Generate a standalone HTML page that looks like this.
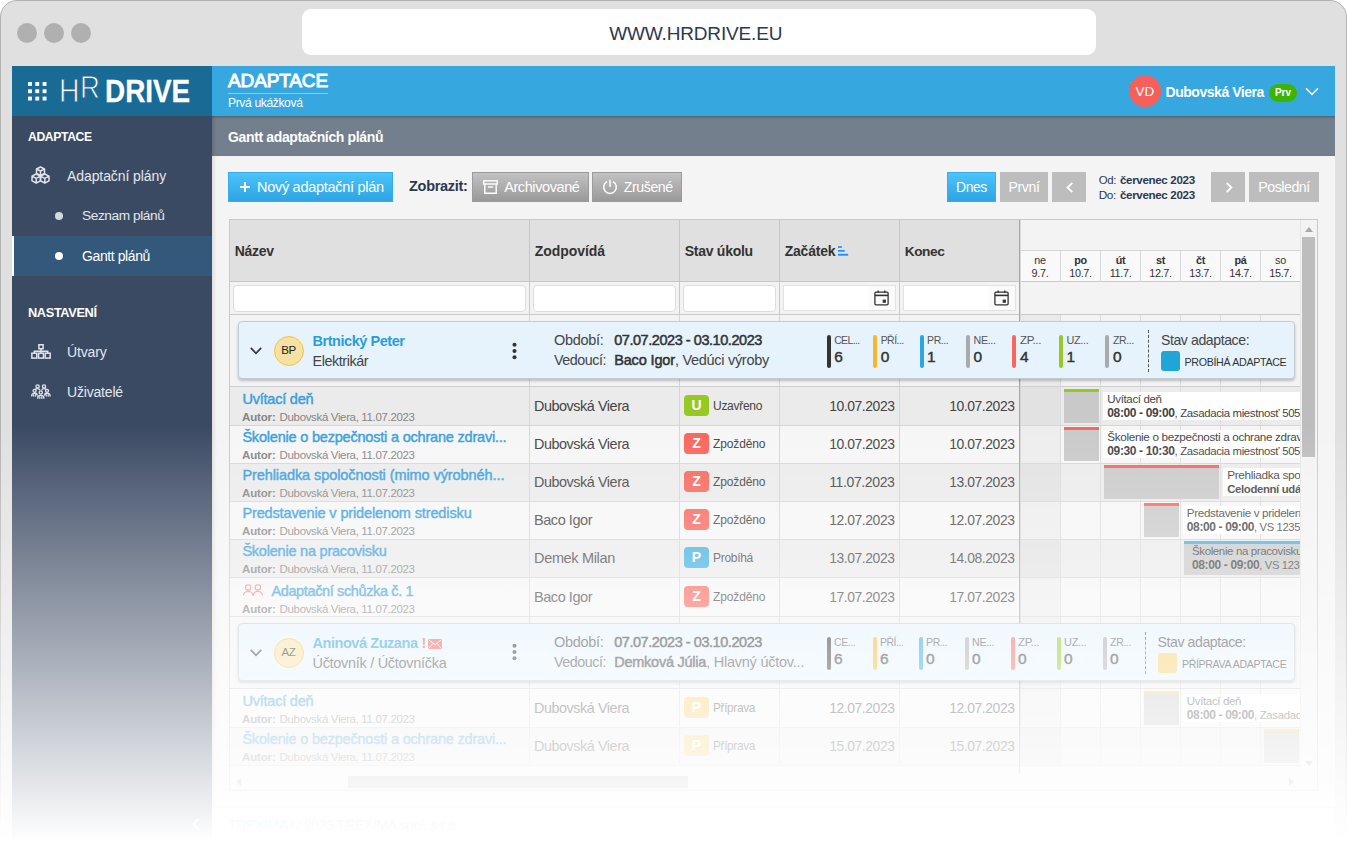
<!DOCTYPE html>
<html lang="cs"><head>
<meta charset="utf-8">
<title>HR DRIVE - Adaptace</title>
<style>
*{box-sizing:border-box;margin:0;padding:0}
html,body{width:1347px;height:859px;overflow:hidden;background:#fff}
body{font-family:"Liberation Sans",sans-serif;color:#333;position:relative;font-size:14px}
.abs{position:absolute}
#frame{position:absolute;left:0;top:0;width:1347px;height:850px;background:#e0e0e0;border:1px solid #b2b2b2;border-radius:17px}
.dot{position:absolute;top:23px;width:20px;height:20px;border-radius:50%;background:#b0b0b0}
#url{position:absolute;left:302px;top:9px;width:794px;height:46px;background:#fff;border-radius:9px;text-align:center;line-height:49px;font-size:19px;color:#2c3850;padding-right:6.5px}
#app{position:absolute;left:12px;top:66px;width:1323px;height:775px;background:#f4f4f4;overflow:hidden}
#logo{position:absolute;left:0;top:0;width:200px;height:50px;background:#1a6a96}
#topbar{position:absolute;left:200px;top:0;width:1123px;height:50px;background:#37a7e0}
#side{position:absolute;left:0;top:50px;width:200px;height:760px;background:#3b4a63;color:#fff}
#sub{position:absolute;left:200px;top:50px;width:1123px;height:40px;background:#737f8c;color:#fff;font-weight:bold;font-size:14px;line-height:42px;padding-left:16px;box-shadow:inset 0 3px 3px -2px rgba(0,0,0,.28),inset 4px 0 4px -3px rgba(0,0,0,.18)}

#logo .grid{position:absolute;left:15.7px;top:15.9px;width:19px;height:19px}
#logo .hh,#logo .rr{position:absolute;font-size:33px;color:#fff;-webkit-text-stroke:.95px #1a6a96;line-height:36px;transform-origin:0 50%;transform:scaleX(.86)}
#logo .hh{left:47px;top:6.5px}
#logo .rr{left:68px;top:3px;font-size:32px}
#logo .drive{position:absolute;left:93.2px;top:6.5px;font-size:31.5px;font-weight:bold;color:#fff;line-height:36px;transform-origin:0 50%;transform:scaleX(.885);-webkit-text-stroke:.3px #fff}
#topbar .ttl{position:absolute;left:16px;top:3px;font-size:19px;font-weight:normal;-webkit-text-stroke:.95px #fff;color:#fff;line-height:24px;border-bottom:1px solid rgba(255,255,255,.45);height:25px}
#topbar .subt{position:absolute;left:16px;top:29px;font-size:12.5px;color:#fff;line-height:16px}
#topbar .av{position:absolute;left:917px;top:9px;width:32px;height:32px;border-radius:50%;background:#f5605b;color:#fff;text-align:center;line-height:33.5px;font-size:13.5px}
#topbar .un{position:absolute;left:953.5px;top:16px;font-size:14.5px;font-weight:bold;color:#fff;line-height:20px;white-space:nowrap}
#topbar .pill{position:absolute;left:1057px;top:18px;width:28px;height:18px;border-radius:9px;background:#3db500;color:#fff;font-size:10px;font-weight:bold;text-align:center;line-height:18px}
#topbar .chev{position:absolute;left:1093px;top:21px;width:14px;height:9px}
#side .sec{position:absolute;left:16px;font-size:13px;font-weight:bold;color:#fff;line-height:16px;white-space:nowrap}
#side .it{position:absolute;left:55px;font-size:14px;color:#e3e7ec;line-height:18px;white-space:nowrap}
#side .sit{position:absolute;left:70px;font-size:14px;color:#e3e7ec;line-height:18px;white-space:nowrap}
#side .bul{position:absolute;left:42.8px;width:8px;height:8px;border-radius:50%;background:#d5d9e0}
#side .act{position:absolute;left:0;top:120px;width:200px;height:40px;background:#34587a;border-left:2px solid #fff}
#side svg{position:absolute}

#content{position:absolute;left:200px;top:90px;width:1123px;height:720px;box-shadow:inset 5px 0 5px -4px rgba(0,0,0,.14)}
.btn{position:absolute;top:16px;height:30px;line-height:29px;color:#fff;font-size:14.5px;white-space:nowrap;text-align:center}
.btn.blue{background:linear-gradient(#4ac4fb,#2fa3e2);border:1px solid #34aeea}
.btn.gray{background:linear-gradient(#c2c2c2,#999);border:1px solid #9b9b9b}
.btn.flat{background:#bdbdbd}
.btn svg{position:absolute}
.btn span{position:absolute;top:0}
.lbl{position:absolute;left:197px;top:16px;line-height:29px;font-weight:bold;font-size:14.5px;color:#2c3850}
.oddo{position:absolute;left:886.7px;font-size:12.5px;color:#2c3850;line-height:15px;white-space:nowrap}
.oddo b{position:absolute;left:21.3px;top:0}.oddo span{font-size:12px;position:relative;top:.6px}
#grid{z-index:0;position:absolute;left:17px;top:63px;width:1089px;height:572px;border:1px solid #c9c9c9;background:#f3f3f3;overflow:hidden}
#grid .hd{position:absolute;left:0;top:0;width:789px;height:62px;background:#e0e0e0;border-bottom:1px solid #c6c6c6}
#grid .hc{position:absolute;top:0;height:61px;border-left:1px solid #c6c6c6;font-weight:bold;font-size:14px;color:#333;line-height:63px;padding-left:4.7px;white-space:nowrap}
#grid .fr{position:absolute;left:0;top:62px;width:789px;height:33px;background:#f3f3f3;border-bottom:1px solid #c9c9c9}
#grid .fc{position:absolute;top:62px;height:32px;border-left:1px solid #c9c9c9}
#grid .fi{position:absolute;top:65px;height:27px;background:#fff;border:1px solid #ddd;border-radius:4px}
#grid .vsep{z-index:1;position:absolute;left:789px;top:0;width:1px;height:553px;background:#a6a6a6;box-shadow:1px 0 0 #dadada}
#grid .dayrow{position:absolute;left:791px;top:30px;width:280px;height:32px;background:#f9f9f9;border-top:1px solid #d4d4d4;border-bottom:1px solid #c9c9c9}
#grid .day{position:absolute;top:31px;width:40px;height:31px;border-left:1px solid #d8d8d8;text-align:center;font-size:10.8px;line-height:13px;padding-top:3.3px;color:#333;letter-spacing:-.3px}
#grid .gfr{position:absolute;left:791px;top:94px;width:280px;height:1px;background:#c9c9c9}

.grow{position:absolute;left:0;width:1070px;height:72px;border-bottom:1px solid #cfcfcf;background:#f3f3f3}
.gl{position:absolute;top:0;width:1px;height:100%;background:#d6d6d6}
.card{z-index:2;position:absolute;left:8px;top:6.5px;width:1057px;height:58px;background:#e6f3fd;border:1px solid #c4ccd3;border-radius:4px;box-shadow:0 2px 3px rgba(0,0,0,.22);font-size:14.5px;color:#444;white-space:nowrap}
.card>*{position:absolute}
.card .avt{left:35px;top:14px;width:30px;height:30px;border-radius:50%;background:#f6e1a3;border:1.5px solid #f6c33f;font-size:11.5px;letter-spacing:-.4px;color:#222;text-align:center;line-height:27px}
.card .nm{left:74px;top:10px;line-height:18px;font-weight:bold;color:#2a9fd6}
.card .ps{left:74px;top:30px;line-height:18px}
.card .l1{top:9px;line-height:18px}
.card .l2{top:29px;line-height:18px}
.card b{color:#333;font-weight:normal;-webkit-text-stroke:.5px #333}
.card .bar{top:12.5px;width:4px;height:33px;border-radius:2px}
.card .sl{top:11px;font-size:11.5px;line-height:14px;color:#555}
.card .sn{top:25px;font-size:15.5px;line-height:20px;color:#333;-webkit-text-stroke:.45px #333}
.card .dash{top:8px;width:0;height:42px;border-left:1px dashed #555}
.card .box{top:29px;width:19.5px;height:20px;border-radius:3px}
.card .st{top:33px;font-size:11.5px;line-height:14px;color:#333}
.trw{overflow:hidden;position:absolute;left:0;width:1070px;height:38px;border-bottom:1px solid #d6d6d6;white-space:nowrap;font-size:14.5px;color:#444}
.trw.o{background:#ebebeb}.trw.e{background:#f6f6f6}
.trw>*,.trw .in>*{position:absolute}
.trw .in{left:0;width:100%;height:38px}
.trw .tt{left:12px;top:3px;line-height:18px;font-weight:normal;color:#3a9fdb;-webkit-text-stroke:.45px #3a9fdb}
.trw .au{left:12px;top:22px;line-height:14px;font-size:11.5px;color:#858585}
.trw .rs{left:304px;top:10px;line-height:18px}
.trw .bdg{left:454px;top:8px;width:25px;height:21px;border-radius:4px;color:#fff;font-weight:bold;font-size:14px;text-align:center;line-height:21px}
.trw .stx{left:483px;top:11px;font-size:12px;line-height:16px}
.trw .d1{top:10px;line-height:18px}
.trw .wk{left:790px;top:0;width:40px;height:100%;background:rgba(0,0,0,.035)}
.trw .gb{height:34px;background:#c9c9c9;border-top:3px solid #000}
.trw .lb{height:28.5px;background:#fff;font-size:12px;line-height:14px;padding:0 0 0 4px;overflow:hidden}
.trw .gt{font-size:12px;line-height:14px}
.gclip{position:absolute;left:791px;top:95px;width:279px;height:476px;overflow:hidden}
.vsb{z-index:3;border-left:1px solid #e6e6e6;position:absolute;left:1070px;top:0;width:17px;height:553px;background:#f3f3f3}
.hsb{z-index:3;position:absolute;left:0;top:553px;width:1087px;height:18px;background:#f3f3f3}

#grid .fi.sq{border-radius:0;border-color:#e2e2e2;background:linear-gradient(to right,#fff 84px,#fafafa 85px)}
.vsb .thumb{position:absolute;left:1px;top:17px;width:13px;height:220px;background:#bdbdbd}
.hsb .thumb{position:absolute;left:118px;top:2.5px;width:340px;height:12px;background:#bdbdbd}
.arr{position:absolute;width:0;height:0;border:4px solid transparent}

#foot{position:absolute;left:200px;top:741px;width:1123px;height:34px;background:#fafafa;border-top:1px solid #ddd;font-size:14px;line-height:34px;padding-left:16px;color:#777;white-space:nowrap}
#foot a{color:#37a7e0;text-decoration:none}
#fade{z-index:10;position:absolute;left:0;top:0;width:1347px;height:859px;background:linear-gradient(to bottom,rgba(255,255,255,0) 425px,rgba(255,255,255,1) 842px);pointer-events:none}
</style>
</head>
<body>
<div id="frame"></div>
<div class="dot" style="left:17px"></div><div class="dot" style="left:44px"></div><div class="dot" style="left:71px"></div>
<div id="url"><span style="letter-spacing: -0.16px;">WWW.HRDRIVE.EU</span></div>
<div id="app">
  <div id="logo">
    <svg class="grid" viewBox="0 0 19 19"><g fill="#fff"><rect x="0" y="0" width="3.9" height="3.9"></rect><rect x="7.3" y="0" width="3.9" height="3.9"></rect><rect x="14.6" y="0" width="3.9" height="3.9"></rect><rect x="0" y="7.3" width="3.9" height="3.9"></rect><rect x="7.3" y="7.3" width="3.9" height="3.9"></rect><rect x="14.6" y="7.3" width="3.9" height="3.9"></rect><rect x="0" y="14.6" width="3.9" height="3.9"></rect><rect x="7.3" y="14.6" width="3.9" height="3.9"></rect><rect x="14.6" y="14.6" width="3.9" height="3.9"></rect></g></svg>
    <div class="hh">H</div><div class="rr">R</div>
    <div class="drive">DRIVE</div>
  </div>
  <div id="topbar">
    <div class="ttl" style="letter-spacing: -0.13px;">ADAPTACE</div>
    <div class="subt" style="letter-spacing: -0.37px; font-size: 12.1px;">Prvá ukážková</div>
    <div class="av">VD</div>
    <div class="un" style="letter-spacing: -0.46px; font-size: 14px;">Dubovská Viera</div>
    <div class="pill">Prv</div>
    <svg class="chev" viewBox="0 0 14 9"><path d="M1 1.2 L7 7.4 L13 1.2" fill="none" stroke="#fff" stroke-width="1.5"></path></svg>
  </div>
  <div id="side">
    <div class="sec" style="top: 12.8px; letter-spacing: -0.38px; font-size: 12.2px;">ADAPTACE</div>
    <svg style="left:19px;top:50px" width="19" height="18" viewBox="0 0 19 18" fill="none" stroke="#e0e3e9" stroke-width="1.5" stroke-linejoin="round"><path d="M9.5 1 L13.5 3 L13.5 7.5 L9.5 9.5 L5.5 7.5 L5.5 3 Z M5.5 3 L9.5 5 L13.5 3 M9.5 5 L9.5 9.5"></path><path d="M5.2 8 L9.4 10.2 L9.4 14.8 L5.2 17 L1 14.8 L1 10.2 Z M1 10.2 L5.2 12.3 L9.4 10.2 M5.2 12.3 L5.2 17"></path><path d="M13.8 8 L18 10.2 L18 14.8 L13.8 17 L9.6 14.8 L9.6 10.2 Z M9.6 10.2 L13.8 12.3 L18 10.2 M13.8 12.3 L13.8 17"></path></svg>
    <div class="it" style="top: 51px; letter-spacing: -0.09px;">Adaptační plány</div>
    <div class="bul" style="top:96px"></div>
    <div class="sit" style="top: 91px; letter-spacing: -0.43px; font-size: 13.7px;">Seznam plánů</div>
    <div class="act"></div>
    <div class="bul" style="top:136px;background:#fff"></div>
    <div class="sit" style="top: 131px; color: rgb(255, 255, 255); letter-spacing: -0.4px;">Gantt plánů</div>
    <div class="sec" style="top: 188.7px; letter-spacing: -0.38px; font-size: 12.8px;">NASTAVENÍ</div>
    <svg style="left:18.7px;top:228px" width="20" height="15" viewBox="0 0 20 15" fill="none" stroke="#e0e3e9" stroke-width="1.5"><rect x="7.9" y="0.75" width="4.2" height="4"></rect><path d="M10 4.75V7.2M3.3 9V7.2H16.7V9M10 7.2V9"></path><rect x="0.85" y="9.2" width="4.9" height="4.9"></rect><rect x="7.55" y="9.2" width="4.9" height="4.9"></rect><rect x="14.25" y="9.2" width="4.9" height="4.9"></rect></svg>
    <div class="it" style="top: 227.3px; letter-spacing: -0.13px;">Útvary</div>
    <svg style="left:18.7px;top:268px" width="20" height="15" viewBox="0 0 20 15" fill="none" stroke="#e0e3e9" stroke-width="1.35" stroke-linecap="round"><circle cx="6.6" cy="2.4" r="1.6"></circle><circle cx="13" cy="2.4" r="1.6"></circle><circle cx="3.6" cy="6.8" r="1.5"></circle><circle cx="16" cy="6.8" r="1.5"></circle><circle cx="9.8" cy="8.4" r="1.6"></circle><path d="M0.8 12V11.2C0.8 8.8 6 8.6 6.2 11M19 12V11.2C19 8.8 13.8 8.6 13.6 11M6.8 14.2V13.4C6.8 10.6 12.8 10.6 12.8 13.4V14.2M4.6 5.2C5.2 4.4 8 4.4 8.6 5.6M15 5.2C14.4 4.4 11.6 4.4 11 5.6M2.6 12V10.8M4.6 12V11M17.2 12V10.8M15.2 12V11M8.8 14.2V13M10.8 14.2V13"></path></svg>
    <div class="it" style="top: 267.3px; letter-spacing: -0.18px;">Uživatelé</div>
  </div>
  <div id="sub"><span style="letter-spacing: -0.36px;">Gantt adaptačních plánů</span></div>
  <div id="content">
    <div class="btn blue" style="left:16px;width:165px"><svg style="left:11.3px;top:9.3px" width="10" height="10" viewBox="0 0 10 10"><path d="M5 0V10M0 5H10" stroke="#fff" stroke-width="2"></path></svg><span style="left: 28px; letter-spacing: -0.29px;">Nový adaptační plán</span></div>
    <div class="lbl" style="letter-spacing: -0.29px;">Zobrazit:</div>
    <div class="btn gray" style="left:260px;width:117px"><svg style="left:10px;top:7px" width="15" height="14" viewBox="0 0 15 14" fill="none" stroke="#fff" stroke-width="1.4"><rect x="0.8" y="0.8" width="13.4" height="3.2"></rect><path d="M1.8 4V13.2H13.2V4"></path><path d="M5 7H10"></path></svg><span style="left: 31.2px; letter-spacing: -0.41px;">Archivované</span></div>
    <div class="btn gray" style="left:380px;width:90px"><svg style="left:9px;top:6px" width="16" height="16" viewBox="0 0 16 16" fill="none" stroke="#fff" stroke-width="1.5"><path d="M5 2.6A6.3 6.3 0 1 0 11 2.6"></path><path d="M8 0.8V8"></path></svg><span style="left: 30.8px; letter-spacing: -0.44px; font-size: 14.2px;">Zrušené</span></div>
    <div class="btn blue" style="left:735px;width:49px"><span style="position: static; letter-spacing: -0.41px; font-size: 13.9px;">Dnes</span></div>
    <div class="btn flat" style="left:788px;width:48px;line-height:30px"><span style="position: static; letter-spacing: -0.42px; font-size: 14.1px;">První</span></div>
    <div class="btn flat" style="left:840px;width:34px"><svg style="left:13.5px;top:9.5px" width="8" height="11" viewBox="0 0 8 11"><path d="M6.3 0.8L1.6 5.5L6.3 10.2" fill="none" stroke="#fff" stroke-width="1.9"></path></svg></div>
    <div class="oddo" style="top:16.3px"><span style="letter-spacing: -0.36px; font-size: 11.4px;">Od:</span><b style="letter-spacing: -0.35px; font-size: 11.6px;">červenec 2023</b></div>
    <div class="oddo" style="top:31.3px"><span style="letter-spacing: -0.35px; font-size: 11.8px;">Do:</span><b style="letter-spacing: -0.35px; font-size: 11.6px;">červenec 2023</b></div>
    <div class="btn flat" style="left:999px;width:34px"><svg style="left:13.5px;top:9.5px" width="8" height="11" viewBox="0 0 8 11"><path d="M1.7 0.8L6.4 5.5L1.7 10.2" fill="none" stroke="#fff" stroke-width="1.9"></path></svg></div>
    <div class="btn flat" style="left:1037px;width:70px;line-height:30px"><span style="position: static; letter-spacing: -0.45px; font-size: 14.2px;">Poslední</span></div>
    <div id="grid">
      <div class="hd"></div>
      <div class="hc" style="left:0;border-left:0;width:300px"><span style="letter-spacing: -0.27px;">Název</span></div>
      <div class="hc" style="left:299px;width:150px"><span style="letter-spacing: -0.04px;">Zodpovídá</span></div>
      <div class="hc" style="left:449px;width:100px"><span style="letter-spacing: -0.26px;">Stav úkolu</span></div>
      <div class="hc" style="left:549px;width:120px"><span style="letter-spacing: -0.22px;">Začátek</span><svg style="position:absolute;left:58px;top:26px" width="11" height="10" viewBox="0 0 11 10" fill="#1e90ff"><rect x="0" y="0.2" width="3.8" height="1.7"></rect><rect x="0" y="4" width="6.7" height="1.7"></rect><rect x="0" y="7.8" width="10.2" height="1.9"></rect></svg></div>
      <div class="hc" style="left:669px;width:120px"><span style="letter-spacing: -0.41px; font-size: 13.7px;">Konec</span></div>
      <div class="fr"></div>
      <div class="fc" style="left:299px"></div><div class="fc" style="left:449px"></div><div class="fc" style="left:549px"></div><div class="fc" style="left:669px"></div>
      <div class="fi" style="left:3px;width:293px"></div>
      <div class="fi" style="left:303px;width:143px"></div>
      <div class="fi" style="left:453px;width:93px"></div>
      <div class="fi sq" style="left:552.8px;width:113.6px;height:26px"></div><svg style="position:absolute;left:644px;top:69.5px" width="15" height="16" viewBox="0 0 15 16" fill="none" stroke="#333" stroke-width="1.3"><rect x="0.9" y="2.2" width="13.2" height="12.6" rx="1"></rect><path d="M0.9 5.4H14.1" stroke-width="1.6"></path><path d="M4.2 0.4V3M10.8 0.4V3" stroke-width="1.4"></path><rect x="8.7" y="9.6" width="3.2" height="3.2" fill="#333" stroke="none"></rect></svg>
      <div class="fi sq" style="left:672.8px;width:113.6px;height:26px"></div><svg style="position:absolute;left:764px;top:69.5px" width="15" height="16" viewBox="0 0 15 16" fill="none" stroke="#333" stroke-width="1.3"><rect x="0.9" y="2.2" width="13.2" height="12.6" rx="1"></rect><path d="M0.9 5.4H14.1" stroke-width="1.6"></path><path d="M4.2 0.4V3M10.8 0.4V3" stroke-width="1.4"></path><rect x="8.7" y="9.6" width="3.2" height="3.2" fill="#333" stroke="none"></rect></svg>
      <div class="dayrow"></div>
      <div class="day" style="left:790px;border-left:0">ne<br>9.7.</div>
      <div class="day" style="left:830px"><b>po</b><br>10.7.</div>
      <div class="day" style="left:870px"><b>út</b><br>11.7.</div>
      <div class="day" style="left:910px"><b>st</b><br>12.7.</div>
      <div class="day" style="left:950px"><b>čt</b><br>13.7.</div>
      <div class="day" style="left:990px"><b>pá</b><br>14.7.</div>
      <div class="day" style="left:1030px">so<br>15.7.</div>
      <div class="gfr"></div>
      <!--ROWS-->
<div class="grow" style="top:95px;height:72px">
<div class="gl" style="left:299px"></div>
<div class="gl" style="left:449px"></div>
<div class="gl" style="left:549px"></div>
<div class="gl" style="left:669px"></div>
<div class="gl" style="left:830px;background:#dcdcdc"></div>
<div class="gl" style="left:870px;background:#dcdcdc"></div>
<div class="gl" style="left:910px;background:#dcdcdc"></div>
<div class="gl" style="left:950px;background:#dcdcdc"></div>
<div class="gl" style="left:990px;background:#dcdcdc"></div>
<div class="gl" style="left:1030px;background:#dcdcdc"></div>
<div class="wkg" style="position:absolute;left:790px;top:0;width:40px;height:100%;background:rgba(0,0,0,.035)"></div>
<div class="card" style="top:6.4px">
<svg style="left:11.0px;top:24.5px" width="12" height="8" viewBox="0 0 12 8"><path d="M0.8 0.9L6 6.3L11.2 0.9" fill="none" stroke="#3a3340" stroke-width="1.7"></path></svg>
<div class="avt" style="left:34.5px;top:13.5px">BP</div>
<div class="nm" style="left: 73.5px; letter-spacing: -0.45px; font-size: 14.5px;">Brtnický Peter</div>
<div class="ps" style="left: 73.5px; letter-spacing: -0.43px; font-size: 14.4px;">Elektrikár</div>
<svg style="left:272.5px;top:19.3px" width="5" height="18" viewBox="0 0 5 18" fill="#333"><circle cx="2.5" cy="2.7" r="2.05"></circle><circle cx="2.5" cy="9" r="2.05"></circle><circle cx="2.5" cy="15.3" r="2.05"></circle></svg>
<div class="l1" style="left: 314.9px; letter-spacing: -0.28px;">Období:</div>
<div class="l1" style="left: 375.2px; letter-spacing: -0.45px; font-size: 14.5px;"><b>07.07.2023 - 03.10.2023</b></div>
<div class="l2" style="left: 314.9px; letter-spacing: -0.42px; font-size: 14.3px;">Vedoucí:</div>
<div class="l2" style="left:375.2px"><b style="letter-spacing: -0.15px;">Baco Igor</b><span style="letter-spacing: -0.29px;">, Vedúci výroby</span></div>
<div class="bar" style="left:587.6px;background:#333"></div>
<div class="sl" style="left: 595.2px; letter-spacing: -0.65px; font-size: 10.5px;">CEL...</div>
<div class="sn" style="left:595.2px">6</div>
<div class="bar" style="left:634.05px;background:#f5b731"></div>
<div class="sl" style="left: 641.65px; letter-spacing: -0.54px; font-size: 10.5px;">PŘÍ...</div>
<div class="sn" style="left:641.65px">0</div>
<div class="bar" style="left:680.5px;background:#29a8e0"></div>
<div class="sl" style="left: 688.1px; letter-spacing: -0.47px; font-size: 10.5px;">PR...</div>
<div class="sn" style="left:688.1px">1</div>
<div class="bar" style="left:726.95px;background:#aaa"></div>
<div class="sl" style="left: 734.55px; letter-spacing: -0.35px; font-size: 10.7px;">NE...</div>
<div class="sn" style="left:734.55px">0</div>
<div class="bar" style="left:773.4px;background:#f8665c"></div>
<div class="sl" style="left: 781px; letter-spacing: -0.36px; font-size: 11.5px;">ZP...</div>
<div class="sn" style="left:781.0px">4</div>
<div class="bar" style="left:819.85px;background:#97c823"></div>
<div class="sl" style="left: 827.45px; letter-spacing: -0.32px; font-size: 10.9px;">UZ...</div>
<div class="sn" style="left:827.45px">1</div>
<div class="bar" style="left:866.3px;background:#aaa"></div>
<div class="sl" style="left: 873.9px; letter-spacing: -0.35px; font-size: 10.5px;">ZR...</div>
<div class="sn" style="left:873.9px">0</div>
<div class="dash" style="left:908.8px"></div>
<div class="l1" style="left: 921.9px; letter-spacing: -0.41px; font-size: 14.1px;">Stav adaptace:</div>
<div class="box" style="left:921.9px;background:#1fa5d8"></div>
<div class="st" style="left: 945.5px; letter-spacing: -0.34px; font-size: 10.7px;">PROBÍHÁ ADAPTACE</div>
</div></div>
<div class="trw o" style="top:167px;height:39px">
<div class="gl" style="left:299px"></div>
<div class="gl" style="left:449px"></div>
<div class="gl" style="left:549px"></div>
<div class="gl" style="left:669px"></div>
<div class="wk"></div>
<div class="gl" style="left:830px;background:#dcdcdc"></div>
<div class="gl" style="left:870px;background:#dcdcdc"></div>
<div class="gl" style="left:910px;background:#dcdcdc"></div>
<div class="gl" style="left:950px;background:#dcdcdc"></div>
<div class="gl" style="left:990px;background:#dcdcdc"></div>
<div class="gl" style="left:1030px;background:#dcdcdc"></div>
<div class="in" style="top:0px">

<div class="tt" style="left: 12.4px; top: 3px; letter-spacing: -0.21px;">Uvítací deň</div>
<div class="au" style="top:23px"><b style="letter-spacing: -0.15px;">Autor:</b><span style="margin-left: 4px; letter-spacing: -0.35px; font-size: 11.5px;">Dubovská Viera, 11.07.2023</span></div>
<div class="rs" style="letter-spacing: -0.45px; font-size: 14.4px;">Dubovská Viera</div>
<div class="bdg" style="background:#97c823;margin-top:0px">U</div>
<div class="stx" style="letter-spacing: -0.29px;">Uzavřeno</div>
<div class="d1" style="left: 599.2px; margin-top: 0px; letter-spacing: -0.42px; font-size: 13.9px;">10.07.2023</div>
<div class="d1" style="left: 719.2px; margin-top: 0px; letter-spacing: -0.42px; font-size: 13.9px;">10.07.2023</div>
<div class="gb" style="left:834.1px;top:2px;width:34.9px;border-top-color:#97c823"></div><div class="lb" style="left:873.3px;top:4.7px;width:196.7px"><div style="display: inline-block; letter-spacing: -0.35px; font-size: 11.5px;">Uvítací deň</div><br><b style="letter-spacing: -0.37px; font-size: 12px;">08:00 - 09:00</b><span style="letter-spacing: -0.34px; font-size: 11.4px;">, Zasadacia miestnosť 505</span></div>
</div></div>
<div class="trw e" style="top:206px;height:38px">
<div class="gl" style="left:299px"></div>
<div class="gl" style="left:449px"></div>
<div class="gl" style="left:549px"></div>
<div class="gl" style="left:669px"></div>
<div class="wk"></div>
<div class="gl" style="left:830px;background:#dcdcdc"></div>
<div class="gl" style="left:870px;background:#dcdcdc"></div>
<div class="gl" style="left:910px;background:#dcdcdc"></div>
<div class="gl" style="left:950px;background:#dcdcdc"></div>
<div class="gl" style="left:990px;background:#dcdcdc"></div>
<div class="gl" style="left:1030px;background:#dcdcdc"></div>
<div class="in" style="top:-1px">

<div class="tt" style="left: 12.4px; top: 3px; letter-spacing: -0.2px;">Školenie o bezpečnosti a ochrane zdravi...</div>
<div class="au" style="top:23px"><b style="letter-spacing: -0.15px;">Autor:</b><span style="margin-left: 4px; letter-spacing: -0.35px; font-size: 11.5px;">Dubovská Viera, 11.07.2023</span></div>
<div class="rs" style="letter-spacing: -0.45px; font-size: 14.4px;">Dubovská Viera</div>
<div class="bdg" style="background:#f8665c;margin-top:0px">Z</div>
<div class="stx" style="letter-spacing: -0.13px;">Zpožděno</div>
<div class="d1" style="left: 599.2px; margin-top: 0px; letter-spacing: -0.42px; font-size: 13.9px;">10.07.2023</div>
<div class="d1" style="left: 719.2px; margin-top: 0px; letter-spacing: -0.42px; font-size: 13.9px;">10.07.2023</div>
<div class="gb" style="left:834.1px;top:2px;width:34.9px;border-top-color:#f8665c"></div><div class="lb" style="left:873.3px;top:4.7px;width:196.7px"><div style="display: inline-block; letter-spacing: -0.33px; font-size: 11.7px;">Školenie o bezpečnosti a ochrane zdravia</div><br><b style="letter-spacing: -0.37px; font-size: 12px;">09:30 - 10:30</b><span style="letter-spacing: -0.34px; font-size: 11.4px;">, Zasadacia miestnosť 505</span></div>
</div></div>
<div class="trw o" style="top:244px;height:38px">
<div class="gl" style="left:299px"></div>
<div class="gl" style="left:449px"></div>
<div class="gl" style="left:549px"></div>
<div class="gl" style="left:669px"></div>
<div class="wk"></div>
<div class="gl" style="left:830px;background:#dcdcdc"></div>
<div class="gl" style="left:870px;background:#dcdcdc"></div>
<div class="gl" style="left:910px;background:#dcdcdc"></div>
<div class="gl" style="left:950px;background:#dcdcdc"></div>
<div class="gl" style="left:990px;background:#dcdcdc"></div>
<div class="gl" style="left:1030px;background:#dcdcdc"></div>
<div class="in" style="top:-1px">

<div class="tt" style="left: 12.4px; top: 3px; letter-spacing: -0.08px;">Prehliadka spoločnosti (mimo výrobnéh...</div>
<div class="au" style="top:23px"><b style="letter-spacing: -0.15px;">Autor:</b><span style="margin-left: 4px; letter-spacing: -0.35px; font-size: 11.5px;">Dubovská Viera, 11.07.2023</span></div>
<div class="rs" style="letter-spacing: -0.45px; font-size: 14.4px;">Dubovská Viera</div>
<div class="bdg" style="background:#f8665c;margin-top:0px">Z</div>
<div class="stx" style="letter-spacing: -0.13px;">Zpožděno</div>
<div class="d1" style="left: 599.2px; margin-top: 0px; letter-spacing: -0.42px; font-size: 14.1px;">11.07.2023</div>
<div class="d1" style="left: 719.2px; margin-top: 0px; letter-spacing: -0.42px; font-size: 13.9px;">13.07.2023</div>
<div class="gb" style="left:874.1px;top:2px;width:114.9px;border-top-color:#f8665c"></div><div class="lb" style="left:993.2px;top:4.7px;width:76.8px"><div style="display: inline-block; letter-spacing: -0.34px; font-size: 11.8px;">Prehliadka spoločnosti</div><br><b style="letter-spacing: -0.37px; font-size: 11.4px;">Celodenní událost</b><span></span></div>
</div></div>
<div class="trw e" style="top:282px;height:38px">
<div class="gl" style="left:299px"></div>
<div class="gl" style="left:449px"></div>
<div class="gl" style="left:549px"></div>
<div class="gl" style="left:669px"></div>
<div class="wk"></div>
<div class="gl" style="left:830px;background:#dcdcdc"></div>
<div class="gl" style="left:870px;background:#dcdcdc"></div>
<div class="gl" style="left:910px;background:#dcdcdc"></div>
<div class="gl" style="left:950px;background:#dcdcdc"></div>
<div class="gl" style="left:990px;background:#dcdcdc"></div>
<div class="gl" style="left:1030px;background:#dcdcdc"></div>
<div class="in" style="top:-1px">

<div class="tt" style="left: 12.4px; top: 3px; letter-spacing: -0.13px;">Predstavenie v pridelenom stredisku</div>
<div class="au" style="top:23px"><b style="letter-spacing: -0.15px;">Autor:</b><span style="margin-left: 4px; letter-spacing: -0.35px; font-size: 11.5px;">Dubovská Viera, 11.07.2023</span></div>
<div class="rs" style="letter-spacing: -0.45px; font-size: 14.5px;">Baco Igor</div>
<div class="bdg" style="background:#f8665c;margin-top:0px">Z</div>
<div class="stx" style="letter-spacing: -0.13px;">Zpožděno</div>
<div class="d1" style="left: 599.2px; margin-top: 0px; letter-spacing: -0.42px; font-size: 13.9px;">12.07.2023</div>
<div class="d1" style="left: 719.2px; margin-top: 0px; letter-spacing: -0.42px; font-size: 13.9px;">12.07.2023</div>
<div class="gb" style="left:914.1px;top:2px;width:34.5px;border-top-color:#f8665c"></div><div class="lb" style="left:952.8px;top:4.7px;width:117.2px"><div style="display: inline-block; letter-spacing: -0.35px; font-size: 11.7px;">Predstavenie v pridelenom stredisku</div><br><b style="letter-spacing: -0.37px; font-size: 12px;">08:00 - 09:00</b><span style="letter-spacing: -0.34px; font-size: 11.2px;">, VS 12356</span></div>
</div></div>
<div class="trw o" style="top:320px;height:38px">
<div class="gl" style="left:299px"></div>
<div class="gl" style="left:449px"></div>
<div class="gl" style="left:549px"></div>
<div class="gl" style="left:669px"></div>
<div class="wk"></div>
<div class="gl" style="left:830px;background:#dcdcdc"></div>
<div class="gl" style="left:870px;background:#dcdcdc"></div>
<div class="gl" style="left:910px;background:#dcdcdc"></div>
<div class="gl" style="left:950px;background:#dcdcdc"></div>
<div class="gl" style="left:990px;background:#dcdcdc"></div>
<div class="gl" style="left:1030px;background:#dcdcdc"></div>
<div class="in" style="top:-1px">

<div class="tt" style="left: 12.4px; top: 3px; letter-spacing: -0.22px;">Školenie na pracovisku</div>
<div class="au" style="top:23px"><b style="letter-spacing: -0.15px;">Autor:</b><span style="margin-left: 4px; letter-spacing: -0.35px; font-size: 11.5px;">Dubovská Viera, 11.07.2023</span></div>
<div class="rs" style="letter-spacing: -0.33px;">Demek Milan</div>
<div class="bdg" style="background:#3fb0e0;margin-top:0px">P</div>
<div class="stx" style="letter-spacing: -0.29px;">Probíhá</div>
<div class="d1" style="left: 599.2px; margin-top: 0px; letter-spacing: -0.42px; font-size: 13.9px;">13.07.2023</div>
<div class="d1" style="left: 719.2px; margin-top: 0px; letter-spacing: -0.42px; font-size: 13.9px;">14.08.2023</div>
<div class="gb" style="left:954.1px;top:2px;width:115.9px;border-top-color:#3fb0e0"></div><div class="gt" style="left: 962px; top: 5.2px; letter-spacing: -0.38px; font-size: 11.5px;">Školenie na pracovisku</div><div class="gt" style="left:962px;top:19.2px"><b style="letter-spacing: -0.37px; font-size: 12px;">08:00 - 09:00</b><span style="letter-spacing: -0.34px; font-size: 11.2px;">, VS 12356</span></div>
</div></div>
<div class="trw e" style="top:358px;height:39px">
<div class="gl" style="left:299px"></div>
<div class="gl" style="left:449px"></div>
<div class="gl" style="left:549px"></div>
<div class="gl" style="left:669px"></div>
<div class="wk"></div>
<div class="gl" style="left:830px;background:#dcdcdc"></div>
<div class="gl" style="left:870px;background:#dcdcdc"></div>
<div class="gl" style="left:910px;background:#dcdcdc"></div>
<div class="gl" style="left:950px;background:#dcdcdc"></div>
<div class="gl" style="left:990px;background:#dcdcdc"></div>
<div class="gl" style="left:1030px;background:#dcdcdc"></div>
<div class="in" style="top:0px">
<svg style="left:12.7px;top:5.6px" width="20" height="12" viewBox="0 0 20 12" fill="none" stroke="#f2837e" stroke-width="1.1"><circle cx="5.2" cy="3.4" r="2.7"></circle><path d="M0.6 11.5C0.6 6.2 9.8 6.2 9.8 11.5"></path><circle cx="14.8" cy="3.4" r="2.7"></circle><path d="M10.2 11.5C10.2 6.2 19.4 6.2 19.4 11.5"></path></svg>
<div class="tt" style="left: 41.4px; top: 3.8px; letter-spacing: -0.37px;">Adaptační schůzka č. 1</div>
<div class="au" style="top:23.8px"><b style="letter-spacing: -0.15px;">Autor:</b><span style="margin-left: 4px; letter-spacing: -0.35px; font-size: 11.5px;">Dubovská Viera, 11.07.2023</span></div>
<div class="rs" style="letter-spacing: -0.45px; font-size: 14.5px;">Baco Igor</div>
<div class="bdg" style="background:#f8665c;margin-top:0px">Z</div>
<div class="stx" style="letter-spacing: -0.13px;">Zpožděno</div>
<div class="d1" style="left: 599.2px; margin-top: 0px; letter-spacing: -0.42px; font-size: 13.9px;">17.07.2023</div>
<div class="d1" style="left: 719.2px; margin-top: 0px; letter-spacing: -0.42px; font-size: 13.9px;">17.07.2023</div>

</div></div>
<div class="grow" style="top:397px;height:72px">
<div class="gl" style="left:299px"></div>
<div class="gl" style="left:449px"></div>
<div class="gl" style="left:549px"></div>
<div class="gl" style="left:669px"></div>
<div class="gl" style="left:830px;background:#dcdcdc"></div>
<div class="gl" style="left:870px;background:#dcdcdc"></div>
<div class="gl" style="left:910px;background:#dcdcdc"></div>
<div class="gl" style="left:950px;background:#dcdcdc"></div>
<div class="gl" style="left:990px;background:#dcdcdc"></div>
<div class="gl" style="left:1030px;background:#dcdcdc"></div>
<div class="wkg" style="position:absolute;left:790px;top:0;width:40px;height:100%;background:rgba(0,0,0,.035)"></div>
<div class="card" style="top:6.2px">
<svg style="left:11.0px;top:24.5px" width="12" height="8" viewBox="0 0 12 8"><path d="M0.8 0.9L6 6.3L11.2 0.9" fill="none" stroke="#3a3340" stroke-width="1.7"></path></svg>
<div class="avt" style="left:34.5px;top:13.5px">AZ</div>
<div class="nm" style="left: 73.5px; letter-spacing: -0.44px; font-size: 14.5px;">Aninová Zuzana</div><div class="nm" style="left:182.5px;color:#f0605a">!</div><svg style="left:189.2px;top:14.6px" width="14" height="10" viewBox="0 0 14 10"><rect x="0" y="0" width="14" height="10" rx="0.8" fill="#f0605a"></rect><path d="M0.6 0.8L7 5.6L13.4 0.8M0.6 9.4L5.2 4.4M13.4 9.4L8.8 4.4" fill="none" stroke="#fff" stroke-width="0.9"></path></svg>
<div class="ps" style="left: 73.5px; letter-spacing: -0.3px;">Účtovník / Účtovníčka</div>
<svg style="left:272.5px;top:19.3px" width="5" height="18" viewBox="0 0 5 18" fill="#333"><circle cx="2.5" cy="2.7" r="2.05"></circle><circle cx="2.5" cy="9" r="2.05"></circle><circle cx="2.5" cy="15.3" r="2.05"></circle></svg>
<div class="l1" style="left: 314.9px; letter-spacing: -0.28px;">Období:</div>
<div class="l1" style="left: 375.2px; letter-spacing: -0.45px; font-size: 14.5px;"><b>07.07.2023 - 03.10.2023</b></div>
<div class="l2" style="left: 314.9px; letter-spacing: -0.42px; font-size: 14.3px;">Vedoucí:</div>
<div class="l2" style="left:375.2px"><b style="letter-spacing: -0.24px;">Demková Júlia</b><span style="letter-spacing: -0.24px;">, Hlavný účtov...</span></div>
<div class="bar" style="left:587.5px;background:#333"></div>
<div class="sl" style="left: 595.1px; letter-spacing: -0.47px; font-size: 10.5px;">CE...</div>
<div class="sn" style="left:595.1px">6</div>
<div class="bar" style="left:633.5px;background:#f5b731"></div>
<div class="sl" style="left: 641.1px; letter-spacing: -0.54px; font-size: 10.5px;">PŘÍ...</div>
<div class="sn" style="left:641.1px">6</div>
<div class="bar" style="left:679.5px;background:#29a8e0"></div>
<div class="sl" style="left: 687.1px; letter-spacing: -0.47px; font-size: 10.5px;">PR...</div>
<div class="sn" style="left:687.1px">0</div>
<div class="bar" style="left:725.5px;background:#aaa"></div>
<div class="sl" style="left: 733.1px; letter-spacing: -0.35px; font-size: 10.7px;">NE...</div>
<div class="sn" style="left:733.1px">0</div>
<div class="bar" style="left:771.5px;background:#f8665c"></div>
<div class="sl" style="left: 779.1px; letter-spacing: -0.36px; font-size: 11.5px;">ZP...</div>
<div class="sn" style="left:779.1px">0</div>
<div class="bar" style="left:817.5px;background:#97c823"></div>
<div class="sl" style="left: 825.1px; letter-spacing: -0.32px; font-size: 10.9px;">UZ...</div>
<div class="sn" style="left:825.1px">0</div>
<div class="bar" style="left:863.5px;background:#aaa"></div>
<div class="sl" style="left: 871.1px; letter-spacing: -0.35px; font-size: 10.5px;">ZR...</div>
<div class="sn" style="left:871.1px">0</div>
<div class="dash" style="left:905.9px"></div>
<div class="l1" style="left: 918.5px; letter-spacing: -0.41px; font-size: 14.1px;">Stav adaptace:</div>
<div class="box" style="left:918.5px;background:#f8cf6a"></div>
<div class="st" style="left: 942.9px; letter-spacing: -0.33px; font-size: 10.6px;">PŘÍPRAVA ADAPTACE</div>
</div></div>
<div class="trw e" style="top:469px;height:39px">
<div class="gl" style="left:299px"></div>
<div class="gl" style="left:449px"></div>
<div class="gl" style="left:549px"></div>
<div class="gl" style="left:669px"></div>
<div class="wk"></div>
<div class="gl" style="left:830px;background:#dcdcdc"></div>
<div class="gl" style="left:870px;background:#dcdcdc"></div>
<div class="gl" style="left:910px;background:#dcdcdc"></div>
<div class="gl" style="left:950px;background:#dcdcdc"></div>
<div class="gl" style="left:990px;background:#dcdcdc"></div>
<div class="gl" style="left:1030px;background:#dcdcdc"></div>
<div class="in" style="top:0px">

<div class="tt" style="left: 12.4px; top: 3px; letter-spacing: -0.21px;">Uvítací deň</div>
<div class="au" style="top:23px"><b style="letter-spacing: -0.15px;">Autor:</b><span style="margin-left: 4px; letter-spacing: -0.35px; font-size: 11.5px;">Dubovská Viera, 11.07.2023</span></div>
<div class="rs" style="letter-spacing: -0.45px; font-size: 14.4px;">Dubovská Viera</div>
<div class="bdg" style="background:#f8cf6a;margin-top:0px">P</div>
<div class="stx" style="letter-spacing: -0.37px; font-size: 11.9px;">Příprava</div>
<div class="d1" style="left: 599.2px; margin-top: 0px; letter-spacing: -0.42px; font-size: 13.9px;">12.07.2023</div>
<div class="d1" style="left: 719.2px; margin-top: 0px; letter-spacing: -0.42px; font-size: 13.9px;">12.07.2023</div>
<div class="gb" style="left:914.1px;top:2px;width:34.5px;border-top-color:#f8cf6a"></div><div class="lb" style="left:952.8px;top:4.7px;width:117.2px"><div style="display: inline-block; letter-spacing: -0.35px; font-size: 11.5px;">Uvítací deň</div><br><b style="letter-spacing: -0.37px; font-size: 12px;">08:00 - 09:00</b><span style="letter-spacing: -0.34px; font-size: 11.4px;">, Zasadacia miestnosť 505</span></div>
</div></div>
<div class="trw o" style="top:508px;height:38px">
<div class="gl" style="left:299px"></div>
<div class="gl" style="left:449px"></div>
<div class="gl" style="left:549px"></div>
<div class="gl" style="left:669px"></div>
<div class="wk"></div>
<div class="gl" style="left:830px;background:#dcdcdc"></div>
<div class="gl" style="left:870px;background:#dcdcdc"></div>
<div class="gl" style="left:910px;background:#dcdcdc"></div>
<div class="gl" style="left:950px;background:#dcdcdc"></div>
<div class="gl" style="left:990px;background:#dcdcdc"></div>
<div class="gl" style="left:1030px;background:#dcdcdc"></div>
<div class="in" style="top:-1px">

<div class="tt" style="left: 12.4px; top: 3px; letter-spacing: -0.2px;">Školenie o bezpečnosti a ochrane zdravi...</div>
<div class="au" style="top:23px"><b style="letter-spacing: -0.15px;">Autor:</b><span style="margin-left: 4px; letter-spacing: -0.35px; font-size: 11.5px;">Dubovská Viera, 11.07.2023</span></div>
<div class="rs" style="letter-spacing: -0.45px; font-size: 14.4px;">Dubovská Viera</div>
<div class="bdg" style="background:#f8cf6a;margin-top:0px">P</div>
<div class="stx" style="letter-spacing: -0.37px; font-size: 11.9px;">Příprava</div>
<div class="d1" style="left: 599.2px; margin-top: 0px; letter-spacing: -0.42px; font-size: 13.9px;">15.07.2023</div>
<div class="d1" style="left: 719.2px; margin-top: 0px; letter-spacing: -0.42px; font-size: 13.9px;">15.07.2023</div>
<div class="gb" style="left:1034.1px;top:2px;width:34.9px;border-top-color:#f8cf6a"></div><div class="lb" style="left:1073px;top:4.7px;width:-3px"><div style="display:inline-block"></div><br><b></b><span></span></div>
</div></div>
<!--/ROWS-->
      <div class="vsb"><div class="arr" style="left:3.5px;top:2.5px;border-bottom:5px solid #a9a9a9"></div><div class="thumb"></div><div class="arr" style="left:3.5px;top:541px;border-top:5px solid #a9a9a9"></div></div>
      <div class="hsb"><div class="arr" style="left:2px;top:4.5px;border-right:5px solid #a9a9a9"></div><div class="thumb"></div><div class="arr" style="left:1059px;top:4.5px;border-left:5px solid #a9a9a9"></div></div>
      <div class="vsep"></div>
    </div>
  </div>
  <div id="foot"><span style="letter-spacing: -0.36px;"><a>TREXIMA</a> © 2023 TREXIMA spol. s r.o.</span></div>
  <svg style="position:absolute;left:180px;top:752px" width="8" height="12" viewBox="0 0 8 12"><path d="M6.5 1L1.5 6L6.5 11" fill="none" stroke="#fff" stroke-width="2"></path></svg>
</div>
<div id="fade"></div>


</body></html>
